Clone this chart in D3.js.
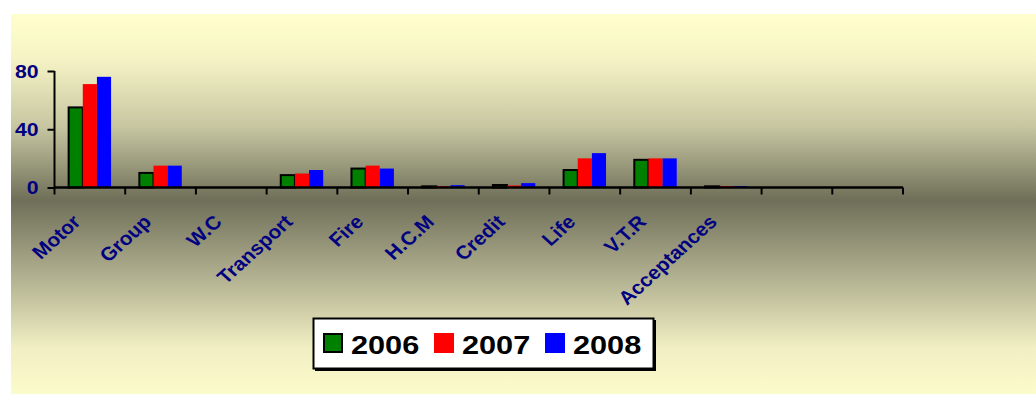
<!DOCTYPE html>
<html>
<head>
<meta charset="utf-8">
<script src="https://cdn.jsdelivr.net/npm/d3@7"></script>
<style>
  html, body { margin: 0; padding: 0; background: #ffffff; }
  svg { display: block; }
  text { font-family: "Liberation Sans", Arial, sans-serif; font-weight: bold; }
</style>
</head>
<body>
<svg id="chart" width="1036" height="394"></svg>
<script>
// Premium by class of business, three years
const categories = ["Motor", "Group", "W.C", "Transport", "Fire", "H.C.M", "Credit", "Life", "V.T.R", "Acceptances", "", ""];
const seriesNames = ["2006", "2007", "2008"];
const values2006 = [55, 10, 0, 8.5, 13, 0.8, 1.7, 12, 19, 0.8, 0, 0];
const values2007 = [71, 15, 0, 9.6, 15, 1.0, 1.4, 20, 20, 1.0, 0, 0];
const values2008 = [76, 15, 0, 12, 13, 1.6, 3.0, 23.6, 20, 1.0, 0, 0];
const yTicks = [0, 40, 80];
const seriesColors = ["#008000", "#ff0000", "#0000ff"];

const seriesValues = [values2006, values2007, values2008];
const svg = d3.select("#chart");
const stretch = 1.18; // text is drawn slightly wide

// Background panel with vertical fade
const defs = svg.append("defs");
const grad = defs.append("linearGradient").attr("id", "bg")
  .attr("x1", 0).attr("y1", 0).attr("x2", 0).attr("y2", 1);
[[0, "#ffffcc"], [0.12, "#f5f3c5"], [0.3, "#c6c5a0"], [0.49, "#6f6f59"],
 [0.7, "#b4b392"], [0.88, "#f1efc3"], [1, "#fcfbcb"]]
  .forEach(([o, c]) => grad.append("stop").attr("offset", o).attr("stop-color", c));
svg.append("rect").attr("x", 11).attr("y", 14).attr("width", 1025).attr("height", 380)
  .attr("fill", "url(#bg)");

const plot = { left: 54.5, right: 903, top: 71, bottom: 187.5 };

const x0 = d3.scaleBand().domain(d3.range(categories.length)).range([plot.left, plot.right]);
const x1 = d3.scaleBand().domain(seriesNames).range([0, x0.bandwidth()]).paddingInner(0).paddingOuter(1);
const y = d3.scaleLinear().domain([0, 80]).range([plot.bottom, plot.top]);

// Bars
const groups = svg.append("g").selectAll("g")
  .data(categories.map((c, i) => i))
  .join("g")
  .attr("transform", i => `translate(${x0(i)},0)`);

groups.selectAll("rect")
  .data(i => seriesNames.map((s, k) => ({ s, k, v: seriesValues[k][i] })))
  .join("rect")
  .filter(d => d.v > 0)
  .attr("x", d => x1(d.s))
  .attr("width", x1.bandwidth())
  .attr("y", d => y(d.v))
  .attr("height", d => y(0) - y(d.v))
  .attr("fill", d => seriesColors[d.k])
  .attr("stroke", d => d.k === 0 ? "#000" : "none")
  .attr("stroke-width", 2);

// Value axis
const yAxis = svg.append("g").attr("transform", `translate(${plot.left},0)`)
  .call(d3.axisLeft(y).tickValues(yTicks).tickSize(7).tickFormat(d3.format("d")));
yAxis.select(".domain").attr("stroke", "#000").attr("stroke-width", 2)
  .attr("d", `M0,${y(80)}V${plot.bottom + 7}`);
yAxis.selectAll(".tick line").attr("stroke", "#000").attr("stroke-width", 2);
yAxis.selectAll(".tick text")
  .attr("fill", "#000080").attr("font-size", 18)
  .attr("x", null).attr("dy", "0.36em")
  .attr("text-anchor", "end")
  .attr("transform", `translate(-16,0) scale(${stretch},1)`);

// Category axis
const boundaries = d3.range(categories.length + 1).map(i => plot.left + i * x0.step());
const xAxis = svg.append("g");
xAxis.append("line")
  .attr("x1", plot.left).attr("x2", plot.right)
  .attr("y1", plot.bottom).attr("y2", plot.bottom)
  .attr("stroke", "#000").attr("stroke-width", 2.4);
xAxis.selectAll("line.tk").data(boundaries.slice(1)).join("line").attr("class", "tk")
  .attr("x1", d => d).attr("x2", d => d)
  .attr("y1", plot.bottom).attr("y2", plot.bottom + 7)
  .attr("stroke", "#000").attr("stroke-width", 2);

xAxis.selectAll("text").data(categories.map((c, i) => ({ c, i })).filter(d => d.c))
  .join("text")
  .attr("transform", d => `translate(${x0(d.i) + x0.bandwidth() / 2 - 8},223) scale(1.1,1) rotate(-45)`)
  .attr("text-anchor", "end")
  .attr("font-size", 19)
  .attr("fill", "#000080")
  .text(d => d.c);

// Legend
const legend = svg.append("g");
legend.append("rect").attr("x", 315).attr("y", 320).attr("width", 341).attr("height", 51).attr("fill", "#000");
legend.append("rect").attr("x", 313.5).attr("y", 318.5).attr("width", 340).attr("height", 50)
  .attr("fill", "#fff").attr("stroke", "#000").attr("stroke-width", 2);
const legendX = [323, 434, 545];
const items = legend.selectAll("g.item").data(seriesNames).join("g").attr("class", "item")
  .attr("transform", (d, k) => `translate(${legendX[k]},0)`);
items.append("rect")
  .attr("x", (d, k) => k === 0 ? 1 : 0).attr("y", (d, k) => k === 0 ? 334 : 333)
  .attr("width", (d, k) => k === 0 ? 18 : 20).attr("height", (d, k) => k === 0 ? 18 : 20)
  .attr("fill", (d, k) => seriesColors[k])
  .attr("stroke", (d, k) => k === 0 ? "#000" : "none").attr("stroke-width", 2);
items.append("text")
  .attr("transform", `translate(28,354) scale(${stretch},1)`)
  .attr("font-size", 26).attr("fill", "#000")
  .text(d => d);
</script>
</body>
</html>
